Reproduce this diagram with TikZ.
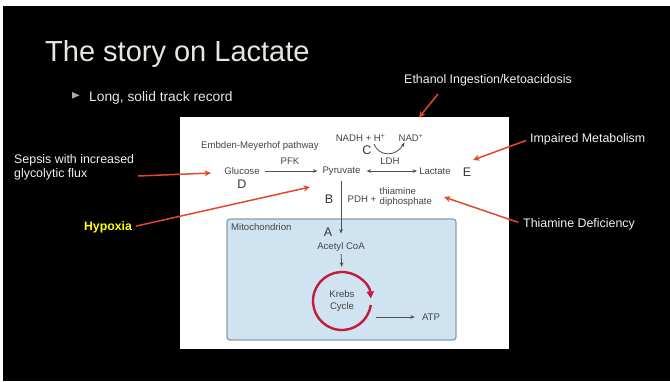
\documentclass[tikz,border=0pt]{standalone}
\usepackage{fontspec}
\setmainfont{Liberation Sans}
\usetikzlibrary{arrows.meta,calc}

\definecolor{slidefg}{HTML}{E8E6DF}
\definecolor{notefg}{HTML}{F2F2F2}
\definecolor{bulletgray}{HTML}{AAAAAA}
\definecolor{callout}{HTML}{E2492B}
\definecolor{inktext}{HTML}{454545}
\definecolor{inkletter}{HTML}{383838}
\definecolor{inkline}{HTML}{505050}
\definecolor{mitofill}{HTML}{CFE3F1}
\definecolor{mitoedge}{HTML}{8E9DA8}
\definecolor{krebsred}{HTML}{C8193C}
\definecolor{hypoxiayellow}{HTML}{FFFF00}

\begin{document}
\begin{tikzpicture}[x=1pt,y=-1pt,
  lbl/.style={inner sep=0pt,text=inktext,font=\fontsize{9.6}{10.5}\selectfont},
  letter/.style={inner sep=0pt,text=inkletter,font=\fontsize{12.5}{14}\selectfont},
  note/.style={inner sep=0pt,text=notefg,font=\fontsize{12.4}{14}\selectfont},
  flow/.style={draw=inkline,line width=0.8pt,-{Stealth[length=4.5pt,width=3.6pt]}},
  callarrow/.style={draw=callout,line width=1.5pt,-{Stealth[length=6.5pt,width=6pt]}},
]
\useasboundingbox (0,0) rectangle (670,381);

% slide background
\fill[white] (0,0) rectangle (670,381);
\fill[black] (3,6) rectangle (670,381);

% heading and bullet
\node[anchor=base west,inner sep=0pt,text=slidefg,font=\fontsize{29}{32}\selectfont]
  (title) at (45,61) {The story on Lactate};
\fill[bulletgray] (72,92) -- (79.5,95.3) -- (72,98.6) -- cycle;
\node[anchor=base west,inner sep=0pt,text=slidefg,font=\fontsize{13.8}{16}\selectfont]
  (bullet) at (89,101) {Long, solid track record};

% figure panel
\fill[white] (180,117) rectangle (509,349);

% glycolysis row
\node[lbl,anchor=west] (emp) at (201,146) {Embden-Meyerhof pathway};
\node[lbl] (nadh) at (360.5,138) {NADH + H\textsuperscript{+}};
\node[lbl] (nad) at (411,138) {NAD\textsuperscript{+}};
\node[letter] (C) at (367,150) {C};
\coordinate (cofA) at (374,144);
\coordinate (cofB) at (404.5,142.5);
\draw[flow] (cofA) .. controls (379,157) and (396,157) .. (cofB);

\node[lbl] (pfk) at (290,161) {PFK};
\node[lbl] (ldh) at (390,161) {LDH};
\node[lbl] (glc) at (242,171) {Glucose};
\node[letter] (D) at (242,184) {D};
\node[lbl] (pyr) at (341.5,171) {Pyruvate};
\node[lbl] (lac) at (435,171) {Lactate};
\node[letter] (E) at (467,172) {E};

\draw[flow,shorten <=5pt,shorten >=5pt] (glc.east) -- (glc.east -| pyr.west);
\draw[flow,{Stealth[length=4.5pt,width=3.6pt]}-{Stealth[length=4.5pt,width=3.6pt]},
  shorten <=6pt,shorten >=2pt] (glc.east -| pyr.east) -- (glc.east -| lac.west);

% pyruvate dehydrogenase step
\node[letter] (B) at (329,199) {B};
\node[lbl,anchor=west] (pdh) at (347.5,199) {PDH +};
\node[lbl,anchor=west,align=left,font=\fontsize{9.6}{10}\selectfont] (tdp) at (379.5,197.5) {thiamine\\diphosphate};

% mitochondrion
\draw[mitoedge,fill=mitofill,line width=1.3pt,rounded corners=3pt] (227,219) rectangle (456,340);
\node[lbl,anchor=west] (mitolbl) at (231,227) {Mitochondrion};
\node[letter] (A) at (328,232) {A};
\node[lbl] (acoa) at (341,247) {Acetyl CoA};
\coordinate (pyrdown) at (341,181);
\coordinate (acoatop) at (341,233.5);
\draw[flow] (pyrdown) -- (acoatop);

\node[lbl,align=center,font=\fontsize{9.6}{12}\selectfont,minimum size=58pt,circle] (krebs) at (342,301) {Krebs\\Cycle};
\draw[flow,shorten <=2.5pt,shorten >=5pt] (acoa.south) -- (krebs.north);
\draw[krebsred,line width=2.4pt,-{Triangle[length=7pt,width=7pt]}]
  ($(krebs.center)+(8:29)$) arc[start angle=8,end angle=355,radius=29];

\node[lbl] (atp) at (431,317) {ATP};
\coordinate (atpsrc) at (376,317);
\draw[flow,shorten >=7pt] (atpsrc) -- (atp.west);

% annotations
\node[note] (ethanol) at (488,80) {Ethanol Ingestion/ketoacidosis};
\coordinate (ethA) at (438,94);
\coordinate (ethB) at (419,117.5);
\draw[callarrow] (ethA) -- (ethB);

\node[note,anchor=west] (impaired) at (530,139) {Impaired Metabolism};
\coordinate (impB) at (473,160);
\draw[callarrow,shorten <=4pt] (impaired.west) -- (impB);

\node[note,anchor=west] (thdef) at (523,224) {Thiamine Deficiency};
\coordinate (thdB) at (444,197);
\draw[callarrow,shorten <=5pt] (thdef.west) -- (thdB);

\node[note,anchor=base west] (sepsis1) at (14,163.5) {Sepsis with increased};
\node[note,anchor=base west] (sepsis2) at (14,177.5) {glycolytic flux};
\coordinate (sepA) at (138,176);
\coordinate (sepB) at (211,173);
\draw[callarrow] (sepA) -- (sepB);

\node[note,text=hypoxiayellow,font=\bfseries\fontsize{12.3}{14}\selectfont] (hypoxia) at (108,227) {Hypoxia};
\coordinate (hypB) at (310,187);
\draw[callarrow,shorten <=4pt] (hypoxia.east) -- (hypB);
\end{tikzpicture}
\end{document}
